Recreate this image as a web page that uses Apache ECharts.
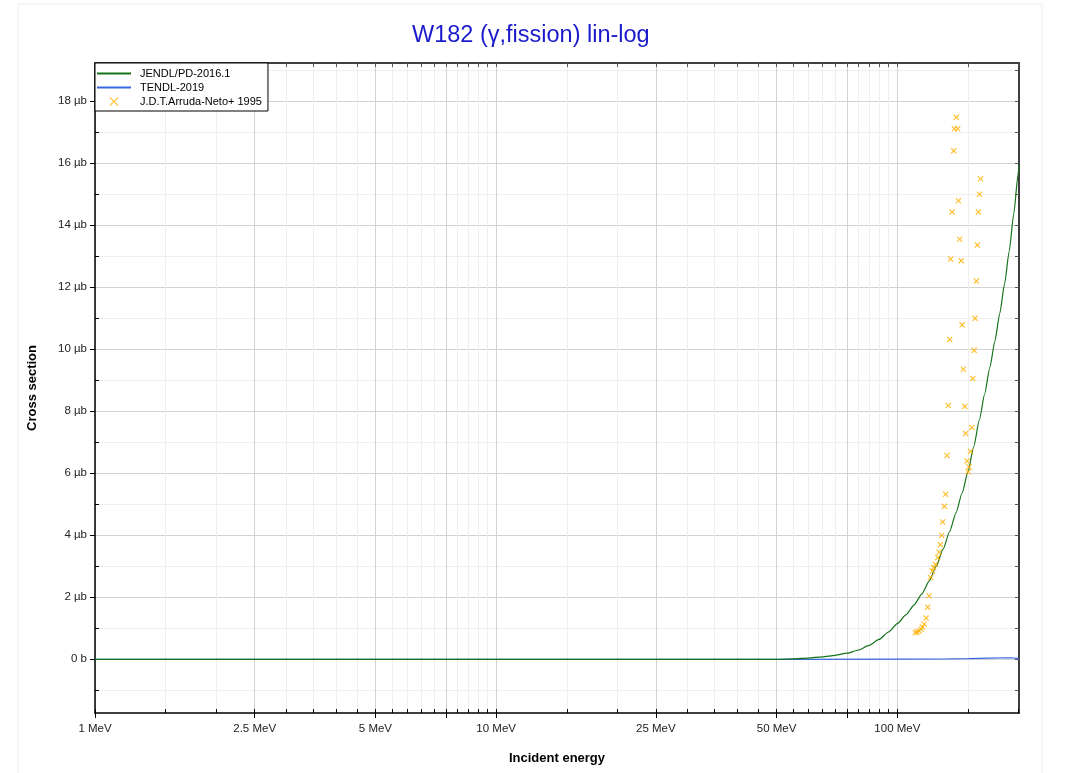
<!DOCTYPE html>
<html>
<head>
<meta charset="utf-8">
<script src="https://cdn.jsdelivr.net/npm/echarts@6/dist/echarts.min.js"></script>
<style>
html,body{margin:0;padding:0;background:#fff;}
#chart{width:1067px;height:773px;}
</style>
</head>
<body>
<div id="chart"></div>
<script>
// ---- data (energies in MeV, cross sections in µb) ----
const jendlE = [1, 10, 30, 50, 55, 60, 65, 70, 75, 80, 85, 90, 95, 100, 105, 110, 115, 120, 125, 130, 135, 140, 145, 150, 155, 160, 165, 170, 175, 180, 185, 190, 195, 200, 201];
const jendlXS = [0, 0, 0, 0, 0.015, 0.04, 0.08, 0.13, 0.2, 0.3, 0.45, 0.64, 0.88, 1.15, 1.43, 1.75, 2.1, 2.52, 3.0, 3.55, 4.12, 4.72, 5.36, 6.05, 6.85, 7.7, 8.55, 9.4, 10.25, 11.15, 12.1, 13.15, 14.35, 15.65, 15.92];
const tendlE = [1, 10, 50, 100, 130, 150, 170, 190, 200, 201];
const tendlXS = [0, 0, 0, 0.005, 0.01, 0.02, 0.04, 0.05, 0.03, 0.0];
const expE = [140.3, 138.7, 141.4, 138.2, 161.1, 160.2, 142.0, 136.9, 159.2, 143.0, 158.3, 135.8, 144.2, 157.4, 156.2, 145.0, 135.0, 155.4, 146.1, 154.1, 134.0, 147.2, 153.2, 148.0, 133.0, 152.1, 149.2, 150.9, 150.1, 131.9, 131.0, 129.7, 129.0, 128.0, 127.1, 126.1, 124.4, 123.2, 122.3, 120.9, 120.0, 119.0, 117.9, 116.6, 115.4, 114.6, 113.3, 112.0, 110.9];
const expXS = [17.47, 17.10, 17.10, 16.39, 15.49, 14.99, 14.78, 14.42, 14.42, 13.54, 13.35, 12.90, 12.85, 12.19, 10.99, 10.78, 10.31, 9.96, 9.35, 9.05, 8.18, 8.15, 7.47, 7.28, 6.57, 6.70, 6.39, 6.20, 6.04, 5.32, 4.93, 4.43, 3.99, 3.69, 3.45, 3.28, 3.06, 2.96, 2.85, 2.64, 2.05, 1.68, 1.33, 1.13, 1.04, 0.97, 0.91, 0.88, 0.86];

const xMajorTicks = [1, 2.5, 5, 7.5, 10, 25, 50, 75, 100];
const xLabelTicks = [1, 2.5, 5, 10, 25, 50, 100];
const xMinorTicks = [1.5, 2, 3, 3.5, 4, 4.5, 5.5, 6, 6.5, 7, 8, 8.5, 9, 9.5, 15, 20, 30, 35, 40, 45, 55, 60, 65, 70, 80, 85, 90, 95, 150, 200];
const yMajorTicks = [0, 2, 4, 6, 8, 10, 12, 14, 16, 18];
const yMinorTicks = [-1, 1, 3, 5, 7, 9, 11, 13, 15, 17, 19];
const yAllTicks = [-1, 0, 1, 2, 3, 4, 5, 6, 7, 8, 9, 10, 11, 12, 13, 14, 15, 16, 17, 18, 19];

const names = ['JENDL/PD-2016.1', 'TENDL-2019', 'J.D.T.Arruda-Neto+ 1995'];

const X_MIN = 1, X_MAX = 201, Y_MIN = -1.73, Y_MAX = 19.22;
const FONT = 'Liberation Sans, Arial, sans-serif';
const XPATH = 'path://M0,1.4 L1.4,0 L5,3.6 L8.6,0 L10,1.4 L6.4,5 L10,8.6 L8.6,10 L5,6.4 L1.4,10 L0,8.6 L3.6,5 Z';
const LEGX = 'path://M0,0.9 L0.9,0 L5,4.1 L9.1,0 L10,0.9 L5.9,5 L10,9.1 L9.1,10 L5,5.9 L0.9,10 L0,9.1 L4.1,5 Z';
const LINEPATH = 'path://M0,0 L34,0 L34,2.2 L0,2.2 Z';

const zip = (a, b) => a.map((v, i) => [v, b[i]]);
const allX = xMajorTicks.concat(xMinorTicks);

const chart = echarts.init(document.getElementById('chart'));
const baseX = {type: 'log', logBase: 10, min: X_MIN, max: X_MAX, gridIndex: 0};
const baseY = {type: 'value', min: Y_MIN, max: Y_MAX, gridIndex: 0};

chart.setOption({
  animation: false,
  backgroundColor: '#fff',
  textStyle: {fontFamily: FONT},
  graphic: [{
    type: 'rect', z: -10, silent: true,
    shape: {x: 18, y: 4, width: 1024, height: 800},
    style: {fill: 'none', stroke: '#ececec', lineWidth: 1}
  }],
  title: {
    text: 'W182 (γ,fission) lin-log',
    left: 407, top: 19,
    textStyle: {color: '#1a1acc', fontSize: 23.5, fontWeight: 'normal', fontFamily: FONT}
  },
  legend: {
    orient: 'vertical', left: 95, top: 63,
    padding: [5, 6, 4, 2], itemGap: 3, itemWidth: 34, itemHeight: 9,
    backgroundColor: '#fff', borderColor: '#000', borderWidth: 1, borderRadius: 0,
    textStyle: {fontSize: 11, color: '#000', fontFamily: FONT, padding: [0, 0, 0, 4]},
    data: [
      {name: names[0], icon: LINEPATH, itemStyle: {color: '#13731a'}},
      {name: names[1], icon: LINEPATH, itemStyle: {color: '#3a66e0'}},
      {name: names[2], icon: LEGX}
    ],
    z: 20
  },
  grid: {left: 95, top: 63, right: 48, bottom: 60, containLabel: false},
  xAxis: [
    Object.assign({}, baseX, {
      position: 'bottom',
      name: 'Incident energy', nameLocation: 'middle', nameGap: 39,
      nameTextStyle: {fontSize: 13, fontWeight: 'bold', color: '#000', fontFamily: FONT},
      axisLine: {show: true, onZero: false, lineStyle: {color: '#000', width: 1.5}},
      axisTick: {show: true, inside: false, length: 5, customValues: xMajorTicks, lineStyle: {color: '#000'}},
      axisLabel: {show: true, customValues: xLabelTicks, margin: 10, fontSize: 11.5, color: '#222', fontFamily: FONT,
        formatter: v => v + ' MeV'},
      splitLine: {show: true, lineStyle: {color: '#d2d2d2', width: 1}},
      minorTick: {show: false}, minorSplitLine: {show: false}
    }),
    Object.assign({}, baseX, {
      position: 'bottom',
      axisLine: {show: false, onZero: false},
      axisTick: {show: true, inside: true, length: 4, customValues: xMinorTicks, lineStyle: {color: '#000'}},
      axisLabel: {show: false},
      splitLine: {show: true, lineStyle: {color: '#efefef', width: 1}}
    }),
    Object.assign({}, baseX, {
      position: 'bottom',
      axisLine: {show: false, onZero: false},
      axisTick: {show: true, inside: true, length: 4, customValues: xMajorTicks, lineStyle: {color: '#000'}},
      axisLabel: {show: false},
      splitLine: {show: false}
    }),
    Object.assign({}, baseX, {
      position: 'top',
      axisLine: {show: true, onZero: false, lineStyle: {color: '#000', width: 1.5}},
      axisTick: {show: true, inside: true, length: 4, customValues: allX, lineStyle: {color: '#555'}},
      axisLabel: {show: false},
      splitLine: {show: false}
    })
  ],
  yAxis: [
    Object.assign({}, baseY, {
      position: 'left',
      name: 'Cross section', nameLocation: 'middle', nameGap: 56, nameRotate: 90,
      nameTextStyle: {fontSize: 13, fontWeight: 'bold', color: '#000', fontFamily: FONT},
      axisLine: {show: true, onZero: false, lineStyle: {color: '#000', width: 1.5}},
      axisTick: {show: true, inside: false, length: 5, customValues: yMajorTicks, lineStyle: {color: '#000'}},
      axisLabel: {show: true, customValues: yMajorTicks, margin: 8, fontSize: 11.5, color: '#222', fontFamily: FONT,
        formatter: v => (v === 0 ? '0 b' : v + ' µb')},
      splitLine: {show: true, lineStyle: {color: '#d2d2d2', width: 1}}
    }),
    Object.assign({}, baseY, {
      position: 'left',
      axisLine: {show: false, onZero: false},
      axisTick: {show: true, inside: true, length: 4, customValues: yMinorTicks, lineStyle: {color: '#000'}},
      axisLabel: {show: false},
      splitLine: {show: true, lineStyle: {color: '#efefef', width: 1}}
    }),
    Object.assign({}, baseY, {
      position: 'right',
      axisLine: {show: true, onZero: false, lineStyle: {color: '#000', width: 1.5}},
      axisTick: {show: true, inside: true, length: 4, customValues: yAllTicks, lineStyle: {color: '#555'}},
      axisLabel: {show: false},
      splitLine: {show: false}
    })
  ],
  series: [
    {
      name: names[1], type: 'line', xAxisIndex: 0, yAxisIndex: 0,
      data: zip(tendlE, tendlXS), showSymbol: false, symbol: 'none',
      lineStyle: {color: '#3a66e0', width: 1.2}, itemStyle: {color: '#3a66e0'}, z: 3
    },
    {
      name: names[0], type: 'line', xAxisIndex: 0, yAxisIndex: 0,
      data: zip(jendlE, jendlXS), showSymbol: false, symbol: 'none', smooth: 0.2, smoothMonotone: 'x',
      lineStyle: {color: '#13731a', width: 1.2}, itemStyle: {color: '#13731a'}, z: 4
    },
    {
      name: names[2], type: 'scatter', xAxisIndex: 0, yAxisIndex: 0,
      data: zip(expE, expXS), symbol: XPATH, symbolSize: 6,
      itemStyle: {color: '#ffb000'}, z: 5
    }
  ]
});
</script>
</body>
</html>
